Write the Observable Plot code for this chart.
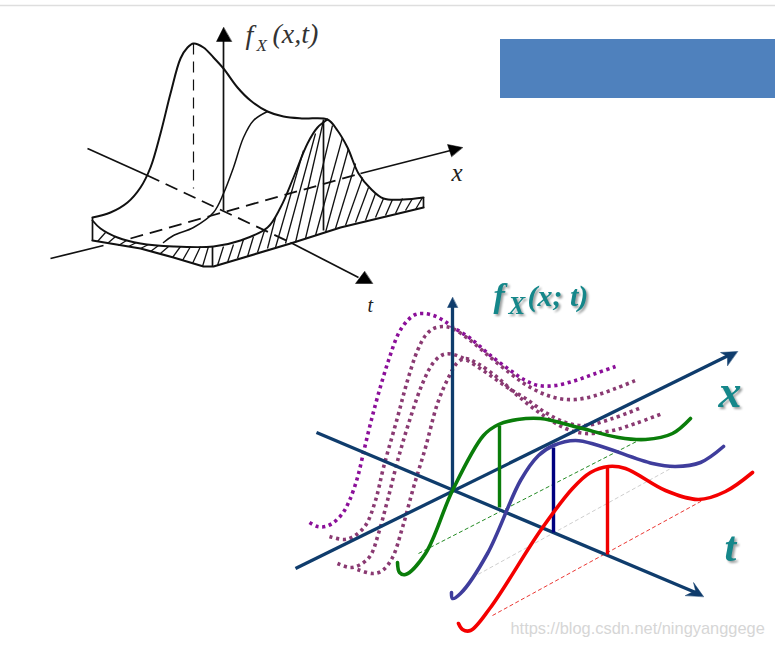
<!DOCTYPE html>
<html><head><meta charset="utf-8">
<script src="https://cdn.jsdelivr.net/npm/d3@7"></script>
<script src="https://cdn.jsdelivr.net/npm/@observablehq/plot@0.6"></script>
<style>html,body{margin:0;padding:0;background:#fff}svg{display:block}</style>
</head><body><div id="chart"></div>
<script>
// ---- upper (black) diagram, [x, y] in picture units
const backEdge=[[92,217],[110,212],[127,202],[140,187],[150,167],[160,133],[170,93],[180,58],[187,47],[193,43],[203,47],[213,57],[223,68],[237,87],[250,100],[267,111],[283,116],[303,118],[327,119],[337,130],[347,147],[358,173],[370,188],[383,198],[403,199],[423,197]];
const bottomEdge=[[92,240],[110,243],[140,248],[173,257],[203,266],[213,266],[240,258],[290,243],[340,227],[423,207]];
const frontEdge=[[92,220],[100,228],[117,237],[140,243],[173,246],[213,246],[240,240],[267,227],[280,207],[293,177],[307,143],[317,127],[327,119]];
const midCurve=[[163,242],[173,235],[193,227],[213,212],[223,193],[233,167],[243,137],[253,120],[267,111]];
const hatches=[
[97,241,105,232],[107,243,115,236],[118,245,126,240],[128,246,136,242],[140,248,148,244],[150,251,158,245],[160,253,168,246],[172,257,180,246],[182,260,190,246],[192,263,200,246],[202,266,208,246],
[217,265,223,246],[227,262,233,244],[237,258,243,239],[247,256,253,236],[257,252,264,230],[267,248,275,217],[275,247,303,150],[285,243,315,133],[295,242,323,120],[305,238,332,125],[315,235,342,137],[325,232,348,148],[335,228,355,163],[345,225,362,177],[355,222,368,187],[365,220,375,193],[375,217,383,198],[385,215,392,199],[395,213,402,198],[405,210,412,198],[415,209,422,197]];
const solidBlack=[[87,148,147,175],[290,242,358,277],[50,258,103,245],[360,173,450,150],[223,210,223,40],[92,217,92,240],[423,197,423,207],[323,119,323,230],[212,246,212,266]];
const dashedBlack=[[147,175,290,242],[130,238,360,173]];
const dashedPeak=[[193,43,193,188]];
const blackHeads=[[[223,27],[216,41],[231,41]],[[372,283],[355,283],[364,271]],[[462,147],[447,144],[451,156]]];

// ---- lower (coloured) diagram
const navy="#0f3c6c";
const navyAxes=[[316,432,695,592],[295,568,732,353],[452,490,452,303]];
const navyHeads=[[[452,297],[447,307],[457,307]],[[703,596],[693,582],[695,590],[685,595]],[[737,351],[720,352],[727,356],[727,365]]];
const dots1=[[309,522],[317,526],[325,526],[333,522],[342,513],[349,500],[357,477],[363,452],[370,423],[378,393],[388,360],[398,333],[407,320],[415,314],[423,313],[433,315],[443,320],[453,327],[470,338],[490,355],[510,370],[525,380],[538,385],[555,385],[575,380],[595,373],[615,366]];
const dots2=[[329,536],[343,539],[353,536],[365,525],[375,500],[383,467],[397,417],[407,380],[417,350],[425,335],[433,328],[443,326],[452,328],[470,340],[490,357],[510,373],[525,384],[542,393],[558,398],[575,399],[595,395],[615,388],[635,380]];
const dots3=[[337,563],[350,567],[360,564],[370,555],[378,533],[387,500],[398,457],[410,417],[422,383],[433,362],[443,354],[453,354],[467,360],[487,373],[507,387],[525,398],[545,412],[565,422],[585,425],[612,418],[641,407]];
const dots4=[[357,569],[372,573],[382,570],[392,557],[402,527],[413,487],[425,447],[437,403],[448,377],[457,362],[465,358],[477,363],[497,377],[517,395],[540,413],[565,428],[585,433],[612,430],[635,423],[662,413]];
const green=[[397,562],[399,572],[405,574],[425,553],[452,490],[483,435],[498,424],[517,419],[540,418],[578,427],[618,437],[645,439],[672,433],[690,418]];
const indigo=[[451,592],[452,598],[460,593],[487,553],[520,480],[538,455],[553,445],[575,440],[598,445],[652,463],[675,466],[700,462],[723,446]];
const red=[[458,623],[462,629],[470,630],[490,607],[540,530],[572,488],[590,472],[608,466],[625,468],[665,490],[698,499],[725,491],[752,472]];
const dropLines=[[499,425,499,507,"#0a7d0a"],[553,447,553,532,"#00007f"],[607,466,607,554,"#f00000"]];
const guideLines=[[418,553,638,440,"#0a7d0a"],[472,577,672,467,"#c8c8c8"],[492,615,702,500,"#e8201c"]];

const banner=[[500,775,39,98]];
const topRule=[[5]];
const X=d=>d[0], Y=d=>d[1];
const seg=(data,o)=>Plot.link(data,{x1:d=>d[0],y1:d=>d[1],x2:d=>d[2],y2:d=>d[3],...o});
const curve=(data,stroke,strokeWidth,extra={})=>Plot.line(data,{x:X,y:Y,curve:"catmull-rom",stroke,strokeWidth,strokeLinecap:"round",...extra});
const head=(pts,fill)=>Plot.line(pts,{x:X,y:Y,fill,stroke:fill,strokeWidth:0.5,curve:"linear-closed"});
const ink="#111";
const serif="Liberation Serif";
const label=(t,x,y,size,o={})=>Plot.text([t],{x:()=>x,y:()=>y,text:d=>d,fontSize:size,fontFamily:serif,fontStyle:"italic",fill:"#222",textAnchor:"start",...o});
const teal=(t,x,y,size)=>label(t,x,y,size,{fill:"#15878a",fontWeight:"bold",imageFilter:"drop-shadow(2px 2px 1px #9a9e9e)"});
const dotted={strokeDasharray:"3.2,3.6",strokeLinecap:"butt"};

const plot=Plot.plot({
  width:775,height:646,margin:0,
  x:{domain:[0,775],axis:null},
  y:{domain:[646,0],axis:null},
  marks:[
    Plot.ruleY(topRule,{y:d=>d[0],stroke:"#dedede",strokeWidth:1.5}),
    Plot.rect(banner,{x1:d=>d[0],x2:d=>d[1],y1:d=>d[2],y2:d=>d[3],fill:"#4f81bd"}),
    // upper diagram
    seg(hatches,{stroke:ink,strokeWidth:1.3}),
    seg(solidBlack,{stroke:ink,strokeWidth:1.7}),
    seg(dashedBlack,{stroke:ink,strokeWidth:1.8,strokeDasharray:"13,7"}),
    seg(dashedPeak,{stroke:ink,strokeWidth:1.2,strokeDasharray:"11,7"}),
    curve(midCurve,ink,1.5),
    curve(frontEdge,ink,1.9),
    curve(bottomEdge,ink,2.2,{curve:"linear"}),
    curve(backEdge,ink,2),
    ...blackHeads.map(h=>head(h,"#000")),
    label("f",245,35,28,{fill:"#333"}),
    label("X",256,45,17,{fill:"#333"}),
    label("(x,t)",272,34,28,{fill:"#333"}),
    label("x",451,172,25),
    label("t",367,305,20),
    // lower diagram
    seg(guideLines,{stroke:d=>d[4],strokeWidth:0.9,strokeDasharray:"4,2.5"}),
    curve(dots1,"#8b0f99",3.6,dotted),
    curve(dots2,"#8a3a72",3.6,dotted),
    curve(dots3,"#8a3a72",3.6,dotted),
    curve(dots4,"#8a3a72",3.6,dotted),
    seg(navyAxes,{stroke:navy,strokeWidth:3.3}),
    ...navyHeads.map(h=>head(h,navy)),
    seg(dropLines,{stroke:d=>d[4],strokeWidth:3.4}),
    curve(green,"#0a7d0a",3.6),
    curve(indigo,"#3f3d9c",3.6),
    curve(red,"#f40000",3.6),
    teal("f",493,296,34),
    teal("X",508,305,25),
    teal("(x; t)",527,296,30),
    teal("x",718,392,46),
    teal("t",724,547,42),
    Plot.text(["https://blog.csdn.net/ningyanggege"],{x:()=>510,y:()=>628,text:d=>d,fontSize:16.4,fontFamily:"Liberation Sans",fill:"#d6d6d6",textAnchor:"start"})
  ]
});
document.getElementById("chart").append(plot);
</script></body></html>
